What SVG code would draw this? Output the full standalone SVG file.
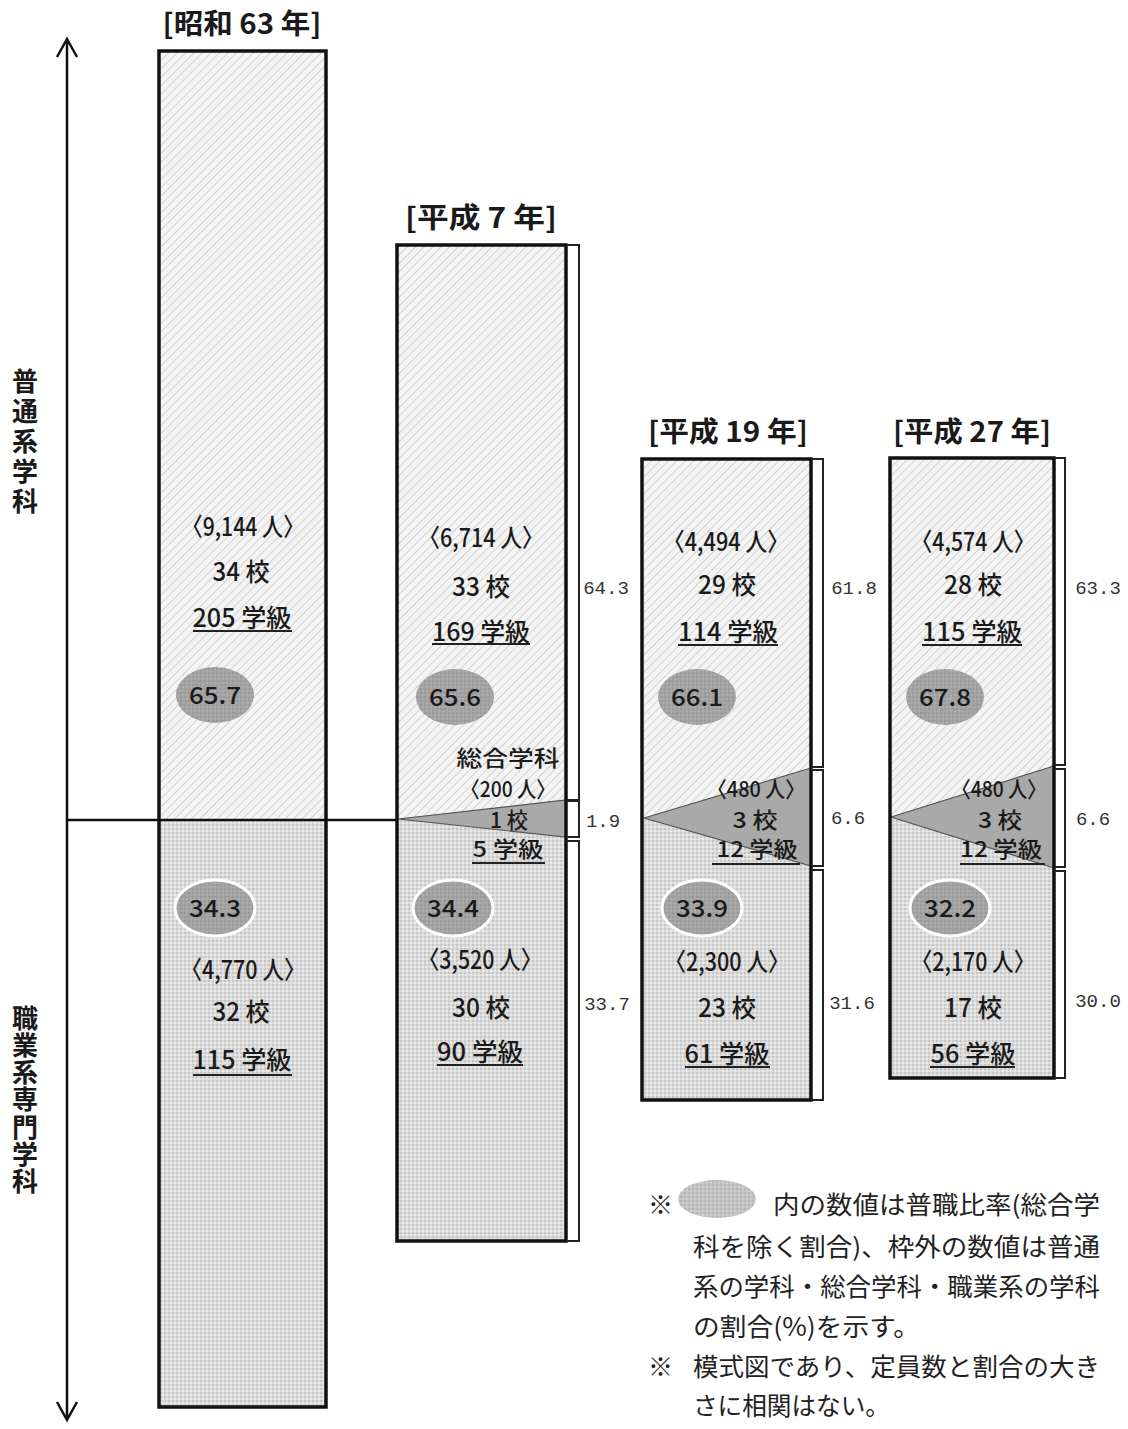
<svg xmlns="http://www.w3.org/2000/svg" width="1128" height="1429" viewBox="0 0 1128 1429">
<defs>
<pattern id="hatch" width="6" height="6" patternUnits="userSpaceOnUse" patternTransform="rotate(45)">
<rect width="6" height="6" fill="#f4f4f4"/>
<line x1="0" y1="0" x2="0" y2="6" stroke="#c2c2c2" stroke-width="1.4"/>
</pattern>
<pattern id="dots" width="4" height="4" patternUnits="userSpaceOnUse">
<rect width="4" height="4" fill="#dadada"/>
<circle cx="1" cy="1" r="0.9" fill="#bdbdbd"/>
<circle cx="3" cy="3" r="0.9" fill="#f0f0f0"/>
</pattern>
<pattern id="edots" width="4" height="4" patternUnits="userSpaceOnUse">
<rect width="4" height="4" fill="#a3a3a3"/>
<circle cx="1" cy="1" r="0.8" fill="#8f8f8f"/>
<circle cx="3" cy="3" r="0.8" fill="#b3b3b3"/>
</pattern>
<pattern id="ldots" width="4" height="4" patternUnits="userSpaceOnUse">
<rect width="4" height="4" fill="#c2c2c2"/>
<circle cx="1" cy="1" r="0.8" fill="#a8a8a8"/>
<circle cx="3" cy="3" r="0.8" fill="#dcdcdc"/>
</pattern>
</defs>
<style>
text{font-family:"Noto Sans CJK JP","Noto Sans",sans-serif;fill:#1a1a1a}
.t{font-size:25px;font-weight:500;text-anchor:middle}
.m{font-size:22px;font-weight:500;text-anchor:middle}
.title{font-size:28px;font-weight:bold;text-anchor:middle}
.side{font-family:"Liberation Mono",monospace;font-size:19px;fill:#333;text-anchor:middle}
.ell{font-size:24px;font-weight:500;text-anchor:middle}
.vt{font-size:26px;font-weight:bold;writing-mode:vertical-rl}
.leg{font-size:25px;fill:#222}
.frame{fill:none;stroke:#111;stroke-width:3.5}
.br{fill:none;stroke:#222;stroke-width:2}
.ul{stroke:#222;stroke-width:1.8}
.tri{stroke:#555;stroke-width:1.2}
.axis{stroke:#111;stroke-width:2.5;fill:none}
</style>

<g id="axis">
<line class="axis" x1="67" y1="40" x2="67" y2="1418"/>
<path class="axis" d="M57,57 L67,39 L77,57"/>
<path class="axis" d="M57,1402 L67,1420 L77,1402"/>
<text class="vt" x="25" y="368" textLength="146" lengthAdjust="spacing">普通系学科</text>
<text class="vt" x="25" y="1005" textLength="189" lengthAdjust="spacing">職業系専門学科</text>
</g>

<g id="connectors">
<line class="axis" x1="67" y1="820" x2="400" y2="820"/>
</g>

<g id="bar-s63">
<text class="title" x="242" y="34" textLength="159" lengthAdjust="spacingAndGlyphs">[昭和 63 年]</text>
<rect x="159" y="51" width="167" height="769" fill="url(#hatch)"/>
<rect x="159" y="820" width="167" height="587" fill="url(#dots)"/>
<rect class="frame" x="159" y="51" width="167" height="1356"/>
<line class="axis" x1="159" y1="820" x2="326" y2="820"/>
<text class="t" x="243" y="536" textLength="123" lengthAdjust="spacingAndGlyphs">〈9,144 人〉</text>
<text class="t" x="241" y="581" textLength="57" lengthAdjust="spacingAndGlyphs">34 校</text>
<text class="t" x="242" y="627" textLength="99" lengthAdjust="spacingAndGlyphs">205 学級</text>
<line class="ul" x1="193" y1="631" x2="292" y2="631"/>
<ellipse cx="215" cy="695" rx="39" ry="28" fill="url(#edots)"/>
<text class="ell" x="215" y="704" textLength="52" lengthAdjust="spacingAndGlyphs">65.7</text>
<ellipse cx="215" cy="908" rx="40" ry="28" fill="url(#edots)" stroke="#fff" stroke-width="3"/>
<text class="ell" x="215" y="917" textLength="52" lengthAdjust="spacingAndGlyphs">34.3</text>
<text class="t" x="243" y="979" textLength="125" lengthAdjust="spacingAndGlyphs">〈4,770 人〉</text>
<text class="t" x="241" y="1021" textLength="57" lengthAdjust="spacingAndGlyphs">32 校</text>
<text class="t" x="242" y="1069" textLength="99" lengthAdjust="spacingAndGlyphs">115 学級</text>
<line class="ul" x1="193" y1="1075" x2="292" y2="1075"/>
</g>

<g id="bar-h7">
<text class="title" x="481" y="228" textLength="152" lengthAdjust="spacingAndGlyphs">[平成 7 年]</text>
<rect x="397" y="245" width="169" height="575" fill="url(#hatch)"/>
<rect x="397" y="820" width="169" height="421" fill="url(#dots)"/>
<polygon class="tri" points="398,819 566,800 566,837" fill="#a9a9a9"/>
<rect class="frame" x="397" y="245" width="169" height="996"/>
<path class="br" d="M566,245 H579 V800 H566"/>
<path class="br" d="M566,801 H579 V837 H566"/>
<path class="br" d="M566,841 H579 V1241 H566"/>
<text class="t" x="481" y="547" textLength="125" lengthAdjust="spacingAndGlyphs">〈6,714 人〉</text>
<text class="t" x="481" y="596" textLength="58" lengthAdjust="spacingAndGlyphs">33 校</text>
<text class="t" x="481" y="641" textLength="98" lengthAdjust="spacingAndGlyphs">169 学級</text>
<line class="ul" x1="432" y1="644" x2="530" y2="644"/>
<ellipse cx="455" cy="697" rx="39" ry="28" fill="url(#edots)"/>
<text class="ell" x="455" y="706" textLength="52" lengthAdjust="spacingAndGlyphs">65.6</text>
<text class="m" x="508" y="766" textLength="103" lengthAdjust="spacingAndGlyphs">総合学科</text>
<text class="m" x="508" y="797" textLength="95" lengthAdjust="spacingAndGlyphs">〈200 人〉</text>
<text class="m" x="509" y="828" textLength="38" lengthAdjust="spacingAndGlyphs">1 校</text>
<text class="m" x="508" y="857" textLength="71" lengthAdjust="spacingAndGlyphs">5 学級</text>
<line class="ul" x1="472" y1="863" x2="545" y2="863"/>
<ellipse cx="453" cy="908" rx="40" ry="28" fill="url(#edots)" stroke="#fff" stroke-width="3"/>
<text class="ell" x="453" y="917" textLength="52" lengthAdjust="spacingAndGlyphs">34.4</text>
<text class="t" x="480" y="969" textLength="124" lengthAdjust="spacingAndGlyphs">〈3,520 人〉</text>
<text class="t" x="481" y="1017" textLength="58" lengthAdjust="spacingAndGlyphs">30 校</text>
<text class="t" x="480" y="1061" textLength="86" lengthAdjust="spacingAndGlyphs">90 学級</text>
<line class="ul" x1="437" y1="1065" x2="523" y2="1065"/>
<text class="side" x="606" y="594">64.3</text>
<text class="side" x="603" y="827">1.9</text>
<text class="side" x="607" y="1010">33.7</text>
</g>

<g id="bar-h19">
<text class="title" x="728" y="442" textLength="160" lengthAdjust="spacingAndGlyphs">[平成 19 年]</text>
<rect x="642" y="459" width="169" height="359" fill="url(#hatch)"/>
<rect x="642" y="818" width="169" height="282" fill="url(#dots)"/>
<polygon class="tri" points="644,818 811,768 811,866" fill="#a9a9a9"/>
<rect class="frame" x="642" y="459" width="169" height="641"/>
<path class="br" d="M811,459 H823 V767 H811"/>
<path class="br" d="M811,770 H823 V866 H811"/>
<path class="br" d="M811,870 H823 V1100 H811"/>
<text class="t" x="726" y="551" textLength="126" lengthAdjust="spacingAndGlyphs">〈4,494 人〉</text>
<text class="t" x="727" y="594" textLength="58" lengthAdjust="spacingAndGlyphs">29 校</text>
<text class="t" x="728" y="641" textLength="100" lengthAdjust="spacingAndGlyphs">114 学級</text>
<line class="ul" x1="678" y1="645" x2="778" y2="645"/>
<ellipse cx="697" cy="697" rx="39" ry="28" fill="url(#edots)"/>
<text class="ell" x="697" y="706" textLength="52" lengthAdjust="spacingAndGlyphs">66.1</text>
<text class="m" x="756" y="797" textLength="98" lengthAdjust="spacingAndGlyphs">〈480 人〉</text>
<text class="m" x="755" y="828" textLength="45" lengthAdjust="spacingAndGlyphs">3 校</text>
<text class="m" x="757" y="857" textLength="81" lengthAdjust="spacingAndGlyphs">12 学級</text>
<line class="ul" x1="712" y1="864" x2="800" y2="864"/>
<ellipse cx="702" cy="908" rx="40" ry="28" fill="url(#edots)" stroke="#fff" stroke-width="3"/>
<text class="ell" x="702" y="917" textLength="52" lengthAdjust="spacingAndGlyphs">33.9</text>
<text class="t" x="727" y="971" textLength="125" lengthAdjust="spacingAndGlyphs">〈2,300 人〉</text>
<text class="t" x="727" y="1017" textLength="58" lengthAdjust="spacingAndGlyphs">23 校</text>
<text class="t" x="727" y="1063" textLength="85" lengthAdjust="spacingAndGlyphs">61 学級</text>
<line class="ul" x1="685" y1="1067" x2="770" y2="1067"/>
<text class="side" x="854" y="594">61.8</text>
<text class="side" x="848" y="824">6.6</text>
<text class="side" x="852" y="1009">31.6</text>
</g>

<g id="bar-h27">
<text class="title" x="972" y="442" textLength="158" lengthAdjust="spacingAndGlyphs">[平成 27 年]</text>
<rect x="890" y="458" width="164" height="359" fill="url(#hatch)"/>
<rect x="890" y="817" width="164" height="261" fill="url(#dots)"/>
<polygon class="tri" points="891,817 1054,766 1054,868" fill="#a9a9a9"/>
<rect class="frame" x="890" y="458" width="164" height="620"/>
<path class="br" d="M1054,458 H1065 V765 H1054"/>
<path class="br" d="M1054,769 H1065 V867 H1054"/>
<path class="br" d="M1054,871 H1065 V1078 H1054"/>
<text class="t" x="973" y="551" textLength="124" lengthAdjust="spacingAndGlyphs">〈4,574 人〉</text>
<text class="t" x="973" y="594" textLength="58" lengthAdjust="spacingAndGlyphs">28 校</text>
<text class="t" x="972" y="641" textLength="100" lengthAdjust="spacingAndGlyphs">115 学級</text>
<line class="ul" x1="922" y1="645" x2="1022" y2="645"/>
<ellipse cx="945" cy="697" rx="39" ry="28" fill="url(#edots)"/>
<text class="ell" x="945" y="706" textLength="52" lengthAdjust="spacingAndGlyphs">67.8</text>
<text class="m" x="999" y="797" textLength="95" lengthAdjust="spacingAndGlyphs">〈480 人〉</text>
<text class="m" x="1000" y="828" textLength="44" lengthAdjust="spacingAndGlyphs">3 校</text>
<text class="m" x="1001" y="857" textLength="82" lengthAdjust="spacingAndGlyphs">12 学級</text>
<line class="ul" x1="960" y1="864" x2="1045" y2="864"/>
<ellipse cx="950" cy="908" rx="40" ry="28" fill="url(#edots)" stroke="#fff" stroke-width="3"/>
<text class="ell" x="950" y="917" textLength="52" lengthAdjust="spacingAndGlyphs">32.2</text>
<text class="t" x="973" y="971" textLength="124" lengthAdjust="spacingAndGlyphs">〈2,170 人〉</text>
<text class="t" x="973" y="1017" textLength="58" lengthAdjust="spacingAndGlyphs">17 校</text>
<text class="t" x="973" y="1063" textLength="85" lengthAdjust="spacingAndGlyphs">56 学級</text>
<line class="ul" x1="930" y1="1067" x2="1015" y2="1067"/>
<text class="side" x="1098" y="594">63.3</text>
<text class="side" x="1093" y="825">6.6</text>
<text class="side" x="1098" y="1007">30.0</text>
</g>

<g id="legend">
<text class="leg" x="648" y="1214">※</text>
<ellipse cx="717" cy="1199" rx="39" ry="19" fill="url(#ldots)"/>
<text class="leg" x="773" y="1214" textLength="327" lengthAdjust="spacingAndGlyphs">内の数値は普職比率(総合学</text>
<text class="leg" x="693" y="1256" textLength="407" lengthAdjust="spacingAndGlyphs">科を除く割合)、枠外の数値は普通</text>
<text class="leg" x="693" y="1296" textLength="407" lengthAdjust="spacingAndGlyphs">系の学科・総合学科・職業系の学科</text>
<text class="leg" x="693" y="1336" textLength="227" lengthAdjust="spacingAndGlyphs">の割合(%)を示す。</text>
<text class="leg" x="648" y="1376">※</text>
<text class="leg" x="693" y="1376" textLength="407" lengthAdjust="spacingAndGlyphs">模式図であり、定員数と割合の大き</text>
<text class="leg" x="693" y="1415" textLength="197" lengthAdjust="spacingAndGlyphs">さに相関はない。</text>
</g>
</svg>
